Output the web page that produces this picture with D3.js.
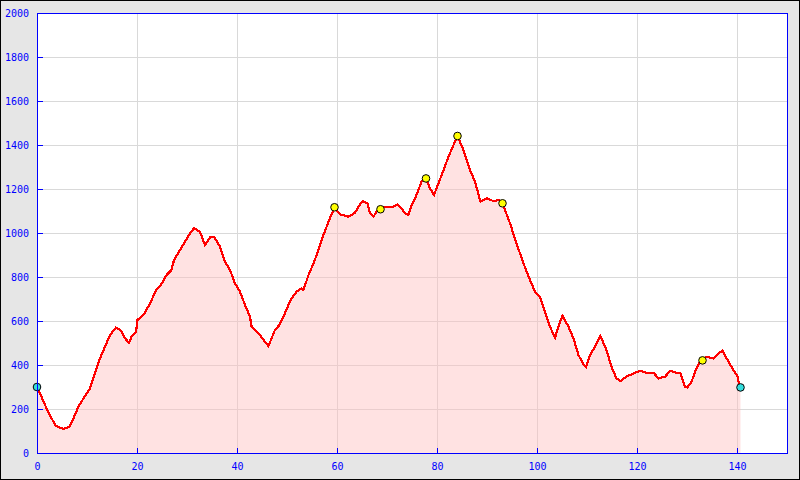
<!DOCTYPE html>
<html><head><meta charset="utf-8">
<script src="https://cdn.jsdelivr.net/npm/d3@7"></script>
<style>html,body{margin:0;padding:0;background:#e6e6e6;}svg{display:block;}</style>
</head><body>
<script>
// distance (km)
const distance = [0,0.9,1.9,2.9,3.8,5.3,6.5,7.3,8.3,9.3,10.6,11.6,12.6,13.6,14.6,15.8,16.7,17.6,18.4,18.9,19.8,20.1,21.3,22.6,23.9,24.9,25.9,26.9,27.4,28.6,29.6,30.6,31.4,32.6,33.6,34.6,35.4,36.6,37.6,38.6,39.6,40.6,41.6,42.6,42.9,44.3,45.3,46.3,47.6,48.5,49.3,50.7,51.9,52.9,53.3,54.3,55.3,56.3,57.3,58.3,59.5,60.6,62.3,63.6,64.3,65.1,66.1,66.6,67.3,67.9,68.7,69.6,70.9,72.1,72.9,73.6,74.3,74.9,75.9,76.9,77.8,78.6,79.4,80.3,81.3,82.3,83.3,84.1,85.3,86.6,87.6,88.7,89.9,91.3,92.3,93.1,94.6,95.9,97.3,98.6,99.6,100.6,101.6,102.6,103.6,104.6,105.1,106.3,107.3,108.3,109.3,109.8,110.6,111.6,112.7,113.9,114.9,115.9,116.7,117.9,119.3,120.6,121.9,123.3,124.3,125.6,126.7,127.9,128.7,129.6,130.1,130.9,131.9,132.6,133.1,133.9,135.3,136.3,137.1,138.3,139.3,140.1,140.3,140.7];
// elevation (m)
const elevation = [300,256,203,158,123,109,120,158,211,248,294,362,430,483,536,570,559,521,501,529,551,605,627,680,744,768,809,832,877,923,961,998,1021,1006,945,980,983,938,870,832,771,733,673,620,577,544,514,486,560,582,620,695,733,748,741,809,862,923,991,1051,1117,1085,1074,1092,1120,1145,1135,1089,1074,1097,1108,1120,1117,1129,1112,1089,1082,1123,1173,1233,1248,1203,1173,1226,1286,1347,1400,1441,1377,1286,1233,1142,1158,1145,1150,1135,1044,953,862,786,733,711,642,574,524,597,623,574,521,445,403,392,445,483,532,468,392,339,327,347,362,373,365,365,339,347,374,365,362,301,298,324,385,415,421,438,430,453,465,415,377,350,324,298];
// highlighted summits (km)
const summits = [59.5,68.7,77.8,84.1,93.1,133.1];
const endpoints = [0,140.7];
const xTicks = [0,20,40,60,80,100,120,140];
const yTicks = [0,200,400,600,800,1000,1200,1400,1600,1800,2000];

const W=800,H=480, L=37, T=13, R=787, B=453;
const svg=d3.select("body").append("svg").attr("width",W).attr("height",H);
svg.append("rect").attr("x",0.5).attr("y",0.5).attr("width",W-1).attr("height",H-1).attr("fill","#e6e6e6").attr("stroke","#000");
const x=d3.scaleLinear().domain([0,150]).range([L,R]);
const y=d3.scaleLinear().domain([0,2000]).range([B,T]);
svg.append("rect").attr("x",L).attr("y",T).attr("width",R-L).attr("height",B-T).attr("fill","#fff");

const g=svg.append("g").attr("shape-rendering","crispEdges");
g.selectAll(".gx").data(xTicks.filter(d=>d>0)).join("line").attr("x1",d=>Math.round(x(d))+0.5).attr("x2",d=>Math.round(x(d))+0.5).attr("y1",T).attr("y2",B).attr("stroke","#d9d9d9");
g.selectAll(".gy").data(yTicks.filter(d=>d>0&&d<2000)).join("line").attr("y1",d=>Math.round(y(d))+0.5).attr("y2",d=>Math.round(y(d))+0.5).attr("x1",L).attr("x2",R).attr("stroke","#d9d9d9");

const pts=distance.map((d,i)=>[d,elevation[i]]);
svg.append("path").datum(pts).attr("d",d3.area().x(d=>x(d[0])).y0(y(0)).y1(d=>y(d[1]))).attr("fill","rgba(255,190,190,0.45)");
svg.append("path").datum(pts).attr("d",d3.line().x(d=>x(d[0])).y(d=>y(d[1]))).attr("fill","none").attr("stroke","#ff0000").attr("stroke-width",2.2).attr("shape-rendering","crispEdges");

const elevAt=k=>{let best=0;distance.forEach((d,i)=>{if(Math.abs(d-k)<Math.abs(distance[best]-k))best=i;});return elevation[best];};
svg.selectAll(".sm").data(summits).join("circle").attr("cx",d=>x(d)).attr("cy",d=>y(elevAt(d))).attr("r",3.8).attr("fill","#ffff00").attr("stroke","#000").attr("stroke-width",1);
svg.selectAll(".ep").data(endpoints).join("circle").attr("cx",d=>x(d)).attr("cy",d=>y(elevAt(d))).attr("r",3.8).attr("fill","#33dddd").attr("stroke","#000").attr("stroke-width",1);

// frame
const f=svg.append("g").attr("shape-rendering","crispEdges");
f.append("rect").attr("x",L+0.5).attr("y",T+0.5).attr("width",R-L).attr("height",B-T).attr("fill","none").attr("stroke","#0000ff");
f.selectAll(".ty").data(yTicks).join("line").attr("x1",L).attr("x2",L+6).attr("y1",d=>Math.round(y(d))+0.5).attr("y2",d=>Math.round(y(d))+0.5).attr("stroke","#0000ff");
f.selectAll(".tx").data(xTicks).join("line").attr("x1",d=>Math.round(x(d))+0.5).attr("x2",d=>Math.round(x(d))+0.5).attr("y1",B-5).attr("y2",B).attr("stroke","#0000ff");

const font="'DejaVu Sans Mono', monospace";
svg.selectAll(".ly").data(yTicks).join("text").attr("x",29).attr("y",d=>y(d)+4).attr("text-anchor","end").attr("font-family",font).attr("font-size",10).attr("fill","#0000ff").text(d=>d);
svg.selectAll(".lx").data(xTicks).join("text").attr("x",d=>x(d)+0.5).attr("y",470).attr("text-anchor","middle").attr("font-family",font).attr("font-size",10).attr("fill","#0000ff").text(d=>d);
</script>
</body></html>
